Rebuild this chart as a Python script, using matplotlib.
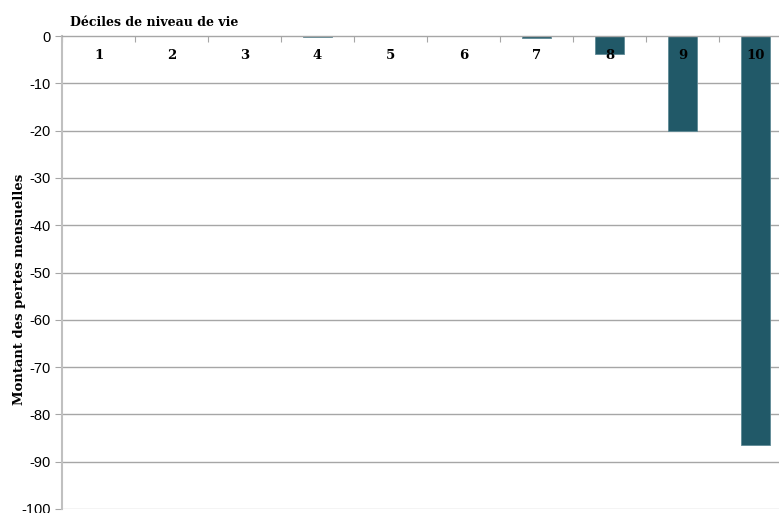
import matplotlib
matplotlib.use("Agg")
import matplotlib.pyplot as plt
import numpy as np

categories = ["1", "2", "3", "4", "5", "6", "7", "8", "9", "10"]
values = [0.0, 0.0, 0.0, -0.3, 0.0, 0.0, -0.5, -3.8, -20.1, -86.5]
y_ticks = [0, -10, -20, -30, -40, -50, -60, -70, -80, -90, -100]

SERIF = "DejaVu Serif"

W, H = 779, 513
fig = plt.figure(figsize=(W / 100, H / 100), dpi=100)
ax = fig.add_axes([62 / W, 4 / H, 730 / W, 473 / H])

x = np.arange(len(categories))
ax.bar(x, values, width=0.4, color="#215968", edgecolor="#5f8a96", linewidth=0.6, zorder=1)

# horizontal gridlines behind the bars
for yv in y_ticks[1:]:
    ax.axhline(yv, color="#a6a6a6" if yv != -100 else "#c8c8c8", linewidth=1.0, zorder=0)

ax.set_xlim(-0.5, len(categories) - 0.5)
ax.set_ylim(-100, 0)
ax.set_yticks(y_ticks)
ax.set_yticklabels([str(v) for v in y_ticks], fontfamily="Liberation Sans", fontsize=10.5)
ax.tick_params(axis="y", length=5, color="#a6a6a6", pad=3)

for s in ["right", "bottom"]:
    ax.spines[s].set_visible(False)
ax.spines["left"].set_color("#c0c0c0")
ax.spines["left"].set_linewidth(1.5)
ax.spines["top"].set_color("#a6a6a6")
ax.spines["top"].set_linewidth(1.0)

ax.xaxis.set_ticks_position("top")
ax.set_xticks(np.arange(-0.5, len(categories) + 0.5, 1.0))
ax.set_xticklabels([])
ax.set_xticks(x, minor=True)
ax.set_xticklabels(categories, minor=True, fontfamily=SERIF,
                   fontweight="bold", fontsize=9.5)
ax.tick_params(axis="x", which="major", direction="in", length=4, color="#a6a6a6")
ax.tick_params(axis="x", which="minor", length=0, pad=-19)

ax.set_ylabel("Montant des pertes mensuelles", fontfamily=SERIF,
              fontweight="bold", fontsize=9.5)
ax.yaxis.set_label_coords(-(62 - 19) / 730, (509 - 289) / 473)
ax.yaxis.label.set_va("center")

fig.text(70 / W, 1 - 22 / H, "Déciles de niveau de vie", fontfamily=SERIF,
         fontweight="bold", fontsize=9, va="center", ha="left")

fig.savefig("out.png", dpi=100)
